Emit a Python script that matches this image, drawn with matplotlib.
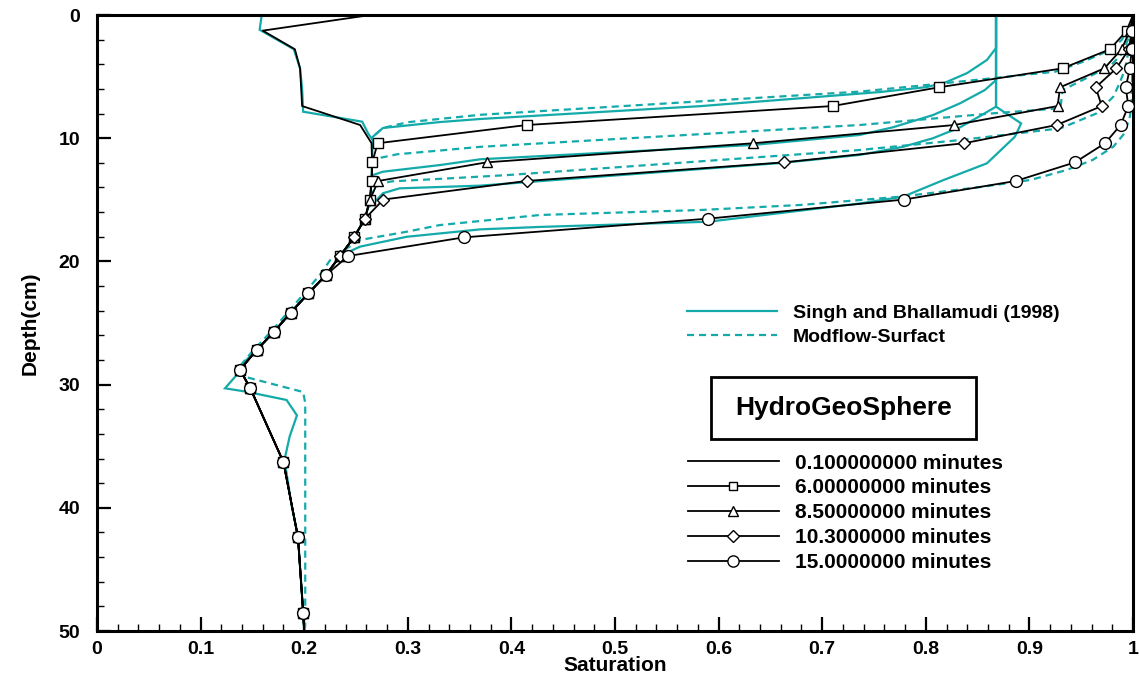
import matplotlib
matplotlib.use('Agg')
import matplotlib.pyplot as plt
from matplotlib.patches import Rectangle
from matplotlib.ticker import MultipleLocator, FuncFormatter

plt.rcParams['font.family'] = ['Liberation Sans', 'DejaVu Sans']
plt.rcParams['font.weight'] = 'bold'

# ---------------- data ----------------
# HydroGeoSphere node depths (cm)
hgs_depth = [0, 1.27, 2.78, 4.33, 5.87, 7.39, 8.93, 10.41, 11.96, 13.47, 14.98,
             16.53, 18.05, 19.56, 21.1, 22.6, 24.15, 25.7, 27.2, 28.8, 30.3,
             36.3, 42.4, 48.5, 50]
hgs_0p1 = [0.264, 0.160, 0.191, 0.196, 0.197, 0.198, 0.254, 0.265, 0.2655, 0.265, 0.2635,
           0.2587, 0.248, 0.2346, 0.221, 0.204, 0.187, 0.171, 0.154, 0.138, 0.148,
           0.180, 0.194, 0.199, 0.200]
hgs_6 = [1.0, 0.9939, 0.9778, 0.932, 0.8127, 0.710, 0.4147, 0.2709, 0.2657, 0.2651, 0.2635,
         0.2587, 0.248, 0.2346, 0.221, 0.204, 0.187, 0.171, 0.154, 0.138, 0.148,
         0.180, 0.194, 0.199, 0.200]
hgs_8p5 = [1.0, 0.997, 0.989, 0.9723, 0.9295, 0.9273, 0.8275, 0.6335, 0.376, 0.2715, 0.2635,
           0.2587, 0.248, 0.2346, 0.221, 0.204, 0.187, 0.171, 0.154, 0.138, 0.148,
           0.180, 0.194, 0.199, 0.200]
hgs_10p3 = [1.0, 0.999, 0.996, 0.984, 0.964, 0.9698, 0.9263, 0.8369, 0.6634, 0.4147, 0.2764,
            0.2587, 0.248, 0.2346, 0.221, 0.204, 0.187, 0.171, 0.154, 0.138, 0.148,
            0.180, 0.194, 0.199, 0.200]
hgs_15 = [1.0, 0.9987, 0.9987, 0.997, 0.993, 0.9955, 0.988, 0.973, 0.944, 0.887, 0.779,
          0.590, 0.354, 0.2426, 0.221, 0.204, 0.187, 0.171, 0.154, 0.138, 0.148,
          0.180, 0.194, 0.199, 0.200]
hgs_labels = ['0.100000000 minutes', '6.00000000 minutes', '8.50000000 minutes',
              '10.3000000 minutes', '15.0000000 minutes']

# Singh and Bhallamudi (1998)
singh_init_sat = [0.159, 0.157, 0.190, 0.196, 0.198, 0.199, 0.256, 0.2616, 0.266, 0.2655, 0.265,
                  0.2635, 0.2587, 0.248, 0.2346, 0.221, 0.204, 0.187, 0.171, 0.154, 0.138,
                  0.135, 0.1236, 0.1445, 0.183, 0.193, 0.186, 0.181, 0.188, 0.194, 0.199, 0.200]
singh_init_depth = [0, 1.2, 2.78, 4.33, 6.0, 7.85, 8.66, 9.6, 10.15, 11.96, 13.47,
                    14.98, 16.53, 18.05, 19.56, 21.1, 22.6, 24.15, 25.7, 27.2, 28.5,
                    29.2, 30.3, 30.58, 31.25, 32.5, 34.2, 36.1, 39.9, 42.3, 48.5, 50]
singh_6_sat = [0.8678, 0.8678, 0.859, 0.840, 0.820, 0.801, 0.756, 0.582, 0.370, 0.331, 0.276, 0.266]
singh_6_depth = [0, 2.68, 3.65, 4.71, 5.44, 5.85, 6.25, 7.4, 8.44, 8.69, 9.17, 9.9]
singh_8p5_sat = [0.8678, 0.8678, 0.857, 0.833, 0.807, 0.768, 0.736, 0.633, 0.370, 0.331, 0.276, 0.266]
singh_8p5_depth = [0, 5.28, 6.09, 7.17, 8.12, 9.12, 9.74, 10.55, 11.71, 12.18, 12.72, 13.0]
singh_10p3_sat = [0.8678, 0.8678, 0.854, 0.833, 0.807, 0.778, 0.736, 0.662, 0.370, 0.292, 0.276, 0.270, 0.262]
singh_10p3_depth = [0, 7.44, 8.12, 9.12, 10.0, 10.7, 11.36, 12.0, 13.85, 14.07, 14.47, 15.0, 15.6]
singh_15_sat = [0.8678, 0.8678, 0.892, 0.886, 0.859, 0.817, 0.778, 0.736, 0.590, 0.428, 0.370,
                0.299, 0.254, 0.241]
singh_15_depth = [0, 7.44, 8.8, 9.88, 12.04, 13.4, 14.75, 15.3, 16.78, 17.2, 17.4,
                  18.0, 18.8, 19.3]

# Modflow-Surface
mf_6_sat = [1.0, 0.997, 0.989, 0.978, 0.952, 0.925, 0.801, 0.736, 0.370, 0.300, 0.276, 0.266]
mf_6_depth = [0, 0.95, 2.03, 2.84, 3.79, 4.6, 5.68, 6.22, 8.1, 8.7, 9.17, 9.9]
mf_8p5_sat = [1.0, 0.997, 0.990, 0.979, 0.958, 0.932, 0.930, 0.865, 0.736, 0.370, 0.331,
              0.290, 0.273, 0.266]
mf_8p5_depth = [0, 1.6, 3.08, 4.06, 5.0, 6.09, 7.57, 7.98, 8.93, 10.7, 11.0,
                11.3, 11.6, 12.3]
mf_10p3_sat = [1.0, 0.997, 0.992, 0.987, 0.981, 0.965, 0.930, 0.833, 0.736, 0.395, 0.331,
               0.285, 0.272, 0.265]
mf_10p3_depth = [0, 2.4, 4.46, 5.54, 6.63, 7.98, 9.2, 10.15, 10.96, 13.0, 13.3,
                 13.5, 13.7, 14.5]
mf_15_sat = [1.0, 0.9995, 0.9987, 0.997, 0.992, 0.981, 0.961, 0.936, 0.901, 0.855, 0.775,
             0.679, 0.582, 0.428, 0.331, 0.299, 0.254, 0.240, 0.225, 0.215, 0.200, 0.184,
             0.168, 0.151, 0.137, 0.142, 0.199, 0.201, 0.201, 0.200]
mf_15_depth = [0, 3.65, 6.9, 8.25, 9.58, 10.69, 11.77, 12.58, 13.39, 13.94, 14.75,
               15.42, 15.83, 16.23, 17.05, 17.59, 18.26, 19.0, 19.9, 21.1, 22.6, 24.15,
               25.7, 27.2, 28.6, 29.35, 30.6, 31.5, 49.6, 50]

x_ticks = [0, 0.1, 0.2, 0.3, 0.4, 0.5, 0.6, 0.7, 0.8, 0.9, 1.0]
y_ticks = [0, 10, 20, 30, 40, 50]

# ---------------- style ----------------
CYAN = '#14AAAA'
W, H = 1139, 679
fig = plt.figure(figsize=(W / 100, H / 100), dpi=100)
ax = fig.add_axes([97 / W, 48 / H, 1036 / W, 616 / H])

solid_kw = dict(color=CYAN, lw=1.6, solid_joinstyle='miter')
dash_kw = dict(color=CYAN, lw=1.6, ls=(0, (3.2, 2.2)))

h_singh, = ax.plot(singh_init_sat, singh_init_depth, **solid_kw)
for s, d in [(singh_6_sat, singh_6_depth), (singh_8p5_sat, singh_8p5_depth),
             (singh_10p3_sat, singh_10p3_depth), (singh_15_sat, singh_15_depth)]:
    ax.plot(s, d, **solid_kw)

h_mf = None
for s, d in [(mf_6_sat, mf_6_depth), (mf_8p5_sat, mf_8p5_depth),
             (mf_10p3_sat, mf_10p3_depth), (mf_15_sat, mf_15_depth)]:
    ln, = ax.plot(s, d, **dash_kw)
    if h_mf is None:
        h_mf = ln

markers = [None, 's', '^', 'D', 'o']
msizes = [0, 6.5, 7.5, 6.5, 8.5]
hgs_series = [hgs_0p1, hgs_6, hgs_8p5, hgs_10p3, hgs_15]
hgs_handles = []
for s, m, ms in zip(hgs_series, markers, msizes):
    kw = dict(color='black', lw=1.3, zorder=3)
    if m is not None:
        kw.update(marker=m, ms=ms, mfc='white', mec='black', mew=1.0,
                  markevery=slice(1, -1))
    ln, = ax.plot(s, hgs_depth, **kw)
    hgs_handles.append(ln)

# ---------------- axes ----------------
ax.set_xlim(0, 1)
ax.set_ylim(50, 0)
ax.set_xticks(x_ticks)
ax.set_yticks(y_ticks)
ax.xaxis.set_minor_locator(MultipleLocator(0.02))
ax.yaxis.set_minor_locator(MultipleLocator(2))
ax.xaxis.set_major_formatter(FuncFormatter(lambda v, p: '%g' % round(v, 1)))
ax.tick_params(which='both', direction='in', top=False, right=False)
ax.tick_params(which='major', length=10, width=1.6, labelsize=14)
ax.tick_params(which='minor', length=5, width=1.0)
ax.tick_params(axis='x', pad=7)
ax.tick_params(axis='y', pad=12)
for sp in ax.spines.values():
    sp.set_linewidth(2.2)
ax.set_xlabel('Saturation', fontsize=15, fontweight='bold', labelpad=-1)
ax.set_ylabel('Depth(cm)', fontsize=15, fontweight='bold', labelpad=14)

# ---------------- legends ----------------
prop1 = dict(weight='bold', size=14)
leg1 = ax.legend([h_singh, h_mf], ['Singh and Bhallamudi (1998)', 'Modflow-Surfact'],
                 loc='upper left', bbox_to_anchor=(0.5695, 0.530), frameon=False,
                 borderpad=0, borderaxespad=0, handlelength=4.65, handletextpad=0.8,
                 labelspacing=0.30, prop=prop1)
ax.add_artist(leg1)

ax.add_patch(Rectangle((0.593, 0.3117), 0.2555, 0.1001, transform=ax.transAxes,
                       fill=False, ec='black', lw=2.0, zorder=5))
ax.text(0.721, 0.362, 'HydroGeoSphere', transform=ax.transAxes, ha='center',
        va='center', fontsize=19, fontweight='bold', zorder=6)

prop2 = dict(weight='bold', size=15)
leg2 = ax.legend(hgs_handles, hgs_labels, loc='upper left',
                 bbox_to_anchor=(0.5705, 0.288), frameon=False, borderpad=0,
                 borderaxespad=0, handlelength=4.35, handletextpad=0.8,
                 labelspacing=0.28, prop=prop2, markerscale=0.95)

fig.savefig('out.png', dpi=100)
